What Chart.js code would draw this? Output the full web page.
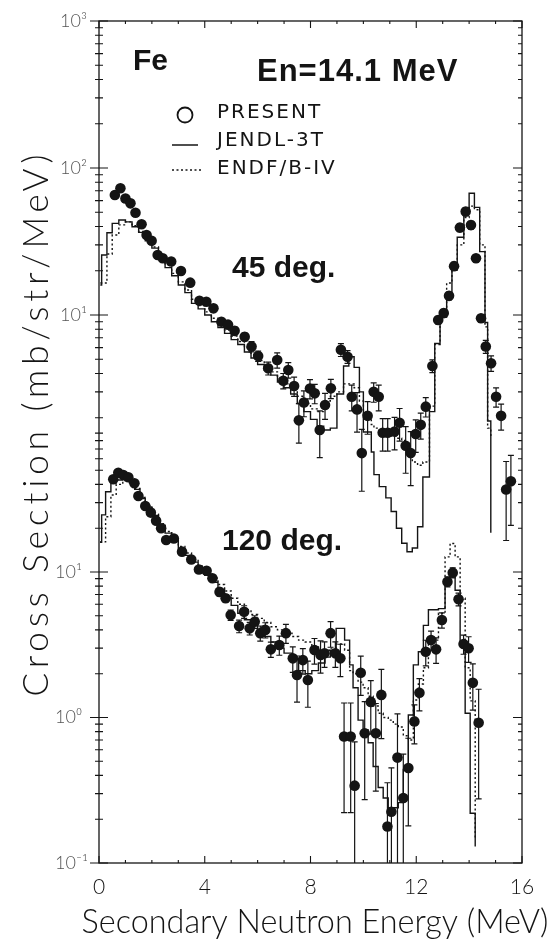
<!DOCTYPE html>
<html>
<head>
<meta charset="utf-8">
<script src="https://cdn.jsdelivr.net/npm/chart.js@4.4.1/dist/chart.umd.min.js"></script>
<style>
  html, body { margin: 0; padding: 0; background: #fff; }
  canvas { display: block; }
</style>
</head>
<body>
<canvas id="chart" width="551" height="944"></canvas>
<script>
// ---- data (E in MeV, cross section in mb/str/MeV) ----
// histograms: [left bin edge, value]; last pair closes the last bin
const jendl45 = [[0.05,16],[0.1,25.6],[0.3,36.3],[0.5,42],[0.75,44.3],[1.0,43],[1.25,39.8],[1.5,36.5],
  [1.75,32],[2.0,28.5],[2.25,25],[2.5,21],[2.75,18.5],[3.0,16],[3.25,14.2],[3.5,12],[3.75,11],[4.0,10],
  [4.25,9.0],[4.5,8.2],[4.75,7.5],[5.0,6.8],[5.25,6.3],[5.5,5.6],[5.75,5.1],[6.0,4.6],[6.25,4.2],[6.5,3.9],
  [6.75,3.5],[7.0,3.2],[7.25,2.9],[7.5,2.5],[7.75,2.2],[8.0,1.95],[8.25,1.75],[8.5,1.65],[8.75,1.7],[9.0,2.9],
  [9.25,4.5],[9.45,5.2],[9.65,4.4],[9.85,3.0],[10.0,1.6],[10.3,1.17],[10.4,0.82],[10.6,0.68],[10.85,0.57],
  [11.05,0.46],[11.25,0.354],[11.45,0.28],[11.65,0.245],[11.85,0.26],[12.05,0.363],[12.25,0.79],[12.5,2.2],
  [12.7,6.4],[12.9,9.7],[13.15,13],[13.35,20.2],[13.55,33.8],[13.8,53],[14.0,67.3],[14.2,54],[14.4,27],
  [14.6,8.9],[14.7,1.9],[14.82,0.33]];
const endf45 = [[0.05,16.5],[0.1,16.5],[0.3,26],[0.5,35],[0.75,41],[1.0,43],[1.25,40.5],[1.5,37],
  [1.75,33],[2.0,29],[2.25,25.5],[2.5,22],[2.75,19.2],[3.0,16.8],[3.25,14.8],[3.5,12.8],[3.75,11.6],[4.0,10.5],
  [4.25,9.5],[4.5,8.7],[4.75,7.9],[5.0,7.2],[5.25,6.6],[5.5,6.0],[5.75,5.4],[6.0,4.9],[6.25,4.5],[6.5,4.1],
  [6.75,3.7],[7.0,3.4],[7.25,3.1],[7.5,2.8],[7.75,2.5],[8.0,2.3],[8.25,2.2],[8.5,2.6],[8.75,2.8],[9.0,3.0],
  [9.25,3.4],[9.45,3.4],[9.65,3.2],[9.85,2.6],[10.0,2.0],[10.3,1.8],[10.4,1.7],[10.6,1.6],[10.85,1.55],
  [11.05,1.5],[11.25,1.45],[11.45,1.4],[11.65,1.15],[11.85,1.0],[12.05,0.95],[12.25,1.0],[12.5,2.4],
  [12.7,6.3],[12.9,10.5],[13.15,16.5],[13.35,22],[13.55,30],[13.8,46],[14.0,55],[14.2,52],[14.4,30],
  [14.6,8.3],[14.7,1.7],[14.82,1.5]];
const jendl120 = [[0.04,16],[0.1,24.7],[0.25,35.6],[0.45,40.8],[0.65,42.9],[0.9,43.5],[1.15,41],[1.35,37],
  [1.55,32],[1.75,28],[2.0,24.5],[2.25,21],[2.5,18.5],[2.75,16.2],[3.0,14.5],[3.25,13],[3.5,11.7],[3.75,10.5],
  [4.0,9.5],[4.25,8.5],[4.5,7.6],[4.75,6.7],[5.0,5.9],[5.25,5.2],[5.5,4.7],[5.75,4.3],[6.0,3.9],[6.25,3.6],
  [6.5,3.3],[6.75,3.0],[7.0,2.77],[7.3,2.5],[7.55,2.1],[7.8,2.0],[8.05,2.1],[8.3,2.37],[8.55,2.6],[8.75,2.9],
  [8.97,4.1],[9.29,3.4],[9.48,2.3],[9.61,1.6],[9.8,0.96],[9.99,0.82],[10.18,0.67],[10.37,0.46],[10.56,0.33],
  [10.75,0.28],[10.94,0.24],[11.13,0.24],[11.32,0.26],[11.51,0.44],[11.7,1.04],[11.89,2.3],[12.08,2.83],
  [12.27,4.3],[12.46,5.5],[12.84,5.6],[13.09,8.4],[13.28,10],[13.47,7.5],[13.66,3.3],[13.85,1.07],
  [14.04,0.22],[14.23,0.13]];
const endf120 = [[0.04,16.1],[0.25,24],[0.45,33.8],[0.65,40],[0.9,42.5],[1.15,41],[1.35,37.5],[1.55,32.5],
  [1.75,28.5],[2.0,25],[2.25,21.5],[2.5,19],[2.75,16.8],[3.0,15],[3.25,13.5],[3.5,12.2],[3.75,11],[4.0,10],
  [4.25,9.1],[4.5,8.2],[4.75,7.4],[5.0,6.6],[5.25,6.0],[5.5,5.5],[5.75,5.1],[6.0,4.8],[6.25,4.5],[6.5,4.2],
  [6.75,4.0],[7.0,3.8],[7.3,3.6],[7.55,3.4],[7.8,3.3],[8.05,3.1],[8.3,2.9],[8.55,2.9],[8.75,3.0],[8.97,3.2],
  [9.29,2.9],[9.48,2.1],[9.61,2.0],[9.8,1.75],[9.99,1.6],[10.18,1.4],[10.37,1.2],[10.56,1.07],[10.75,1.0],
  [10.94,0.96],[11.13,0.9],[11.32,0.86],[11.51,0.75],[11.7,0.7],[11.89,1.32],[12.08,1.7],[12.27,2.2],
  [12.46,3.4],[12.84,5.2],[13.09,12.7],[13.28,15.7],[13.47,12.7],[13.66,6.6],[13.85,2.2],[14.04,1.3],
  [14.23,0.15]];

// measured points: [E, value, relative error]
const present45 = [[0.6,65.5,0.03],[0.81,72.8,0.03],[1.0,62,0.03],[1.19,57.5,0.03],[1.38,49.6,0.03],
  [1.61,41.4,0.03],[1.8,35,0.03],[1.99,32,0.03],[2.22,25.6,0.03],[2.41,24.3,0.03],[2.73,23.1,0.03],
  [3.1,19.9,0.03],[3.45,16.6,0.03],[3.8,12.5,0.03],[4.06,12.3,0.03],[4.33,11.1,0.03],[4.63,9.0,0.04],
  [4.88,8.6,0.05],[5.13,7.8,0.06],[5.51,7.1,0.06],[5.77,6.1,0.08],[6.02,5.26,0.08],[6.4,4.34,0.1],
  [6.74,4.94,0.12],[6.97,3.57,0.12],[7.16,4.23,0.12],[7.38,3.29,0.15],[7.56,1.92,0.3],[7.75,2.54,0.2],
  [7.98,3.16,0.15],[8.16,2.93,0.15],[8.35,1.65,0.35],[8.55,2.44,0.2],[8.77,3.17,0.15],[9.15,5.8,0.1],
  [9.4,5.2,0.1],[9.56,2.78,0.2],[9.76,2.28,0.3],[9.94,1.15,0.45],[10.16,2.06,0.25],[10.39,3.0,0.15],
  [10.58,2.78,0.2],[10.73,1.58,0.25],[10.92,1.58,0.25],[11.18,1.61,0.25],[11.37,1.85,0.25],[11.6,1.29,0.35],
  [11.79,1.15,0.4],[11.98,1.55,0.25],[12.17,1.79,0.2],[12.36,2.38,0.15],[12.61,4.5,0.1],[12.83,9.25,0.06],
  [13.04,10.3,0.06],[13.24,13.5,0.06],[13.43,21.5,0.06],[13.65,39.3,0.06],[13.87,50.5,0.06],[14.07,40.9,0.06],
  [14.26,24.3,0.06],[14.45,9.5,0.06],[14.63,6.1,0.1],[14.83,4.7,0.12],[15.02,2.78,0.15],[15.21,2.06,0.2],
  [15.4,0.65,0.55],[15.58,0.74,0.5]];
const present120 = [[0.54,43.4,0.03],[0.73,48.1,0.03],[0.92,46.4,0.03],[1.11,44.8,0.03],[1.34,40.7,0.03],
  [1.49,33.3,0.03],[1.75,28.4,0.03],[1.96,25.6,0.03],[2.16,22.5,0.03],[2.35,20,0.03],[2.54,16.6,0.03],
  [2.83,17,0.03],[3.14,13.8,0.03],[3.49,12.2,0.03],[3.78,10.4,0.03],[4.07,10.2,0.03],[4.29,9.06,0.03],
  [4.56,7.3,0.06],[4.79,6.6,0.06],[4.98,5.06,0.08],[5.3,4.25,0.1],[5.49,5.33,0.1],[5.7,4.1,0.1],
  [5.89,4.55,0.1],[6.1,3.8,0.12],[6.29,4.0,0.12],[6.5,2.94,0.12],[6.82,3.15,0.15],[7.07,3.8,0.15],
  [7.33,2.55,0.2],[7.49,1.96,0.35],[7.71,2.48,0.2],[7.9,1.81,0.35],[8.15,2.91,0.2],[8.38,2.69,0.25],
  [8.53,2.76,0.2],[8.76,3.8,0.2],[8.94,2.76,0.2],[9.13,2.55,0.25],[9.27,0.74,0.7],[9.52,0.74,0.7],
  [9.67,0.34,1.0],[9.9,2.03,0.3],[10.05,0.78,0.65],[10.28,1.28,0.4],[10.47,0.78,0.6],[10.68,1.43,0.5],
  [10.91,0.178,1.0],[11.06,0.225,1.0],[11.29,0.53,1.0],[11.51,0.28,1.0],[11.7,0.45,0.6],[11.93,0.94,0.3],
  [12.12,1.48,0.25],[12.36,2.83,0.2],[12.56,3.41,0.15],[12.75,2.94,0.2],[12.97,4.68,0.12],[13.18,8.58,0.08],
  [13.38,9.9,0.08],[13.6,6.5,0.1],[13.79,3.2,0.15],[13.98,2.99,0.2],[14.14,1.73,0.35],[14.36,0.92,0.7]];

// axis ticks
const xTickValues = [0, 4, 8, 12, 16];
const yUpperTickValues = [1000, 100, 10];
const yUpperTickLabels = ['10³', '10²', '10¹'];
const yLowerTickValues = [10, 1, 0.1];
const yLowerTickLabels = ['10¹', '10⁰', '10⁻¹'];

const ink = '#141414';
const LIGHT = "Lato, 'DejaVu Sans', sans-serif";
const PLAIN = "'DejaVu Sans', sans-serif";
const BOLD = "'Liberation Sans', Arial, sans-serif";

const xy = arr => arr.map(p => ({ x: p[0], y: p[1] }));

function histo(data, axis, dashed) {
  return {
    type: 'line', data: xy(data), yAxisID: axis,
    borderColor: ink, borderWidth: 1.4, borderDash: dashed ? [2, 2.5] : [],
    stepped: 'before', pointRadius: 0, fill: false
  };
}
function points(data, axis) {
  return {
    type: 'scatter', data: xy(data), yAxisID: axis, errFrac: data.map(p => p[2]),
    pointRadius: 5.3, pointBackgroundColor: ink, pointBorderWidth: 0, pointHoverRadius: 5.3
  };
}

const decadeTicks = (decades) => {
  const out = [];
  decades.forEach(d => { for (let k = 2; k <= 9; k++) out.push(k * d); });
  return out;
};

const figurePlugin = {
  id: 'figure',
  beforeDatasetsDraw(chart) {
    const { ctx, chartArea: a, scales } = chart;
    ctx.save();
    ctx.beginPath();
    ctx.rect(a.left, a.top, a.right - a.left, a.bottom - a.top);
    ctx.clip();
    ctx.strokeStyle = ink;
    ctx.lineWidth = 1.2;
    chart.data.datasets.forEach(ds => {
      if (!ds.errFrac) return;
      const ys = scales[ds.yAxisID];
      ds.data.forEach((p, j) => {
        const f = ds.errFrac[j];
        if (f < 0.05) return;
        const x = scales.x.getPixelForValue(p.x);
        const hi = ys.getPixelForValue(p.y * (1 + f));
        const lo = f >= 1 ? a.bottom + 2 : ys.getPixelForValue(p.y * (1 - f));
        ctx.beginPath();
        ctx.moveTo(x, hi); ctx.lineTo(x, lo);
        ctx.moveTo(x - 3, hi); ctx.lineTo(x + 3, hi);
        if (f < 1) { ctx.moveTo(x - 3, lo); ctx.lineTo(x + 3, lo); }
        ctx.stroke();
      });
    });
    ctx.restore();
  },
  afterDatasetsDraw(chart) {
    const { ctx, chartArea: a, scales } = chart;
    const L = a.left, R = a.right, T = a.top, B = a.bottom;
    ctx.save();
    ctx.strokeStyle = ink;
    ctx.lineWidth = 1.3;
    ctx.strokeRect(L, T, R - L, B - T);

    // y tick marks: crossing on the left, inward on the right
    ctx.lineWidth = 1.1;
    const yMark = (scale, v, len) => {
      const y = scale.getPixelForValue(v);
      ctx.beginPath();
      ctx.moveTo(L - len, y); ctx.lineTo(L + len, y);
      ctx.moveTo(R - len, y); ctx.lineTo(R, y);
      ctx.stroke();
    };
    yUpperTickValues.forEach(v => yMark(scales.y, v, 9));
    decadeTicks([1, 10, 100]).forEach(v => yMark(scales.y, v, 4));
    yLowerTickValues.forEach(v => yMark(scales.y2, v, 9));
    decadeTicks([0.1, 1, 10]).forEach(v => yMark(scales.y2, v, 4));

    // x tick marks, inward on top and bottom
    for (let e = 0; e <= 16; e++) {
      const x = scales.x.getPixelForValue(e);
      const len = e % 4 === 0 ? 7 : 3;
      ctx.beginPath();
      ctx.moveTo(x, B); ctx.lineTo(x, B - len);
      ctx.moveTo(x, T); ctx.lineTo(x, T + len);
      ctx.stroke();
    }

    // labels inside the frame
    ctx.fillStyle = ink;
    ctx.textBaseline = 'alphabetic';
    ctx.textAlign = 'left';
    ctx.font = 'bold 30px ' + BOLD;
    ctx.fillText('Fe', 133, 70);
    ctx.fillText('45 deg.', 232, 277);
    ctx.fillText('120 deg.', 222, 550);
    ctx.font = 'bold 31px ' + BOLD;
    ctx.letterSpacing = '1px';
    ctx.fillText('En=14.1 MeV', 257, 81);

    // legend
    ctx.lineWidth = 1.8;
    ctx.beginPath();
    ctx.arc(185, 115, 7.5, 0, Math.PI * 2);
    ctx.stroke();
    ctx.lineWidth = 1.5;
    ctx.beginPath();
    ctx.moveTo(172, 145); ctx.lineTo(198, 145);
    ctx.stroke();
    ctx.setLineDash([2, 2.5]);
    ctx.beginPath();
    ctx.moveTo(172, 170); ctx.lineTo(203, 170);
    ctx.stroke();
    ctx.setLineDash([]);
    ctx.font = '20px ' + PLAIN;
    ctx.letterSpacing = '2px';
    ctx.textBaseline = 'middle';
    ctx.fillText('PRESENT', 217, 113);
    ctx.fillText('JENDL-3T', 217, 141);
    ctx.fillText('ENDF/B-IV', 217, 169);

    // axis titles
    ctx.textAlign = 'center';
    ctx.textBaseline = 'alphabetic';
    ctx.font = '300 32.4px ' + LIGHT;
    ctx.letterSpacing = '0px';
    ctx.fillText('Secondary Neutron Energy (MeV)', 315, 933);
    ctx.translate(37, 423);
    ctx.rotate(-Math.PI / 2);
    ctx.textBaseline = 'middle';
    ctx.font = '300 35px ' + LIGHT;
    ctx.letterSpacing = '5px';
    ctx.fillText('Cross Section (mb/str/MeV)', 0, 0);
    ctx.letterSpacing = '0px';
    ctx.restore();
  }
};

const tickFont = { family: LIGHT, size: 18, weight: '300' };

new Chart(document.getElementById('chart').getContext('2d'), {
  type: 'scatter',
  data: {
    datasets: [
      points(present45, 'y'),
      points(present120, 'y2'),
      histo(jendl45, 'y', false),
      histo(endf45, 'y', true),
      histo(jendl120, 'y2', false),
      histo(endf120, 'y2', true)
    ]
  },
  options: {
    responsive: false,
    animation: false,
    devicePixelRatio: 1,
    layout: { padding: { left: 99, right: 29, top: 21, bottom: 0 } },
    plugins: { legend: { display: false }, tooltip: { enabled: false } },
    scales: {
      x: {
        type: 'linear', min: 0, max: 16,
        afterBuildTicks: s => { s.ticks = xTickValues.map(v => ({ value: v })); },
        ticks: { font: { family: LIGHT, size: 21, weight: '300' }, color: ink, padding: 12, maxRotation: 0 },
        grid: { display: false, drawTicks: false },
        border: { display: false },
        afterFit: s => { s.height = 81; }
      },
      // upper decades (45 deg.) and lower decades (120 deg.) share the left edge;
      // both boxes are zero-width, labels are mirrored and pulled back outside the frame
      y: {
        type: 'logarithmic', position: 'left',
        min: Math.pow(10, 3 - 842 / 147), max: 1000,
        afterBuildTicks: s => { s.ticks = yUpperTickValues.map(v => ({ value: v })); },
        ticks: {
          callback: (v, i) => yUpperTickLabels[i], autoSkip: false, mirror: true,
          font: tickFont, color: '#555', padding: -39
        },
        grid: { display: false, drawTicks: false },
        border: { display: false },
        afterFit: s => { s.width = 0; }
      },
      y2: {
        type: 'logarithmic', position: 'left',
        min: 0.1, max: Math.pow(10, -1 + 842 / 145.5),
        afterBuildTicks: s => { s.ticks = yLowerTickValues.map(v => ({ value: v })); },
        ticks: {
          callback: (v, i) => yLowerTickLabels[i], autoSkip: false, mirror: true,
          font: tickFont, color: '#555', padding: -44
        },
        grid: { display: false, drawTicks: false },
        border: { display: false },
        afterFit: s => { s.width = 0; }
      }
    }
  },
  plugins: [figurePlugin]
});
</script>
</body>
</html>
